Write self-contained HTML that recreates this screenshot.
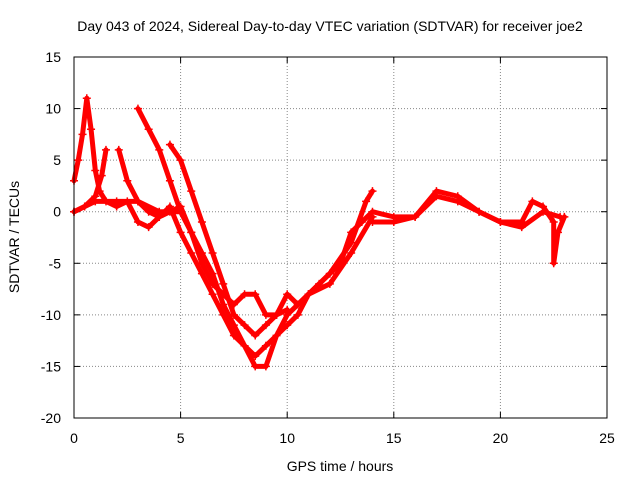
<!DOCTYPE html>
<html><head><meta charset="utf-8"><style>
body{margin:0;background:#fff}
svg{display:block;font-family:"Liberation Sans",sans-serif;font-size:14px}
</style></head><body>
<svg width="640" height="480">
<g id="grid"></g>
<g id="axes"></g>
<g id="series"></g>
<rect x="74" y="57" width="533" height="361" fill="none" stroke="#000"/>
<text x="330" y="31" text-anchor="middle">Day 043 of 2024, Sidereal Day-to-day VTEC variation (SDTVAR) for receiver joe2</text>
<text x="340" y="471" text-anchor="middle">GPS time / hours</text>
<text transform="translate(19,237) rotate(-90)" text-anchor="middle">SDTVAR / TECUs</text>
</svg>
<script>
const xTicks=[0,5,10,15,20,25];
const yTicks=[15,10,5,0,-5,-10,-15,-20];
const track1=[[0,3],[0.2,5],[0.4,7.5],[0.6,11],[0.8,8],[1,4],[1.2,2],[1.5,1],[2,0.5],[2.5,1],[3,-1],[3.5,-1.5],[4,-0.5],[4.5,0],[5,0.5],[5.5,-2],[6,-4],[6.5,-6],[7,-9],[7.5,-11],[8,-13],[8.5,-15],[9,-15],[9.5,-12],[10,-11],[10.5,-10],[11,-8],[11.5,-7],[12,-6],[12.5,-5],[13,-2],[13.5,-1],[14,0],[15,-0.5],[16,-0.5],[17,1.5],[18,1],[19,0],[20,-1],[21,-1.5],[22,0],[22.8,-0.5]];
const track2=[[0,0],[0.5,0.5],[1,1.5],[1.3,3.5],[1.5,6]];
const track2b=[[2.1,6],[2.5,3],[3,1],[3.5,0],[4,-0.5],[4.5,0.5],[5,-2],[5.5,-4],[6,-6],[6.5,-8],[7,-10],[7.5,-12],[8,-13],[8.5,-14],[9,-13],[9.5,-12],[10,-10],[10.5,-9],[11,-8],[12,-7],[13,-4],[14,-0.5]];
const track3=[[3,10],[3.5,8],[4,6],[4.5,3],[5,0],[5.5,-2],[6,-5],[6.5,-7],[7,-8],[7.5,-9],[8,-8],[8.5,-8],[9,-10],[9.5,-10],[10,-8],[10.5,-9],[11,-8],[12,-6],[13,-3],[13.7,1],[14,2]];
const track4=[[4.5,6.5],[5,5],[5.5,2],[6,-1],[6.5,-4],[7,-7],[7.5,-10],[8,-11],[8.5,-12],[9,-11],[9.5,-10],[10,-9.5]];
const track5=[[0,0],[1,1],[2,1],[3,1],[4,0],[5,0]];
const track6=[[14,-1],[15,-1],[16,-0.5],[17,2],[18,1.5],[19,0],[20,-1],[21,-1],[21.5,1],[22,0.5],[22.5,-1],[22.5,-5],[22.7,-2],[23,-0.5]];
const allTracks=[track1,track2,track2b,track3,track4,track5,track6];
const NS="http://www.w3.org/2000/svg";
const X=v=>74+v*533/25;
const Y=v=>57+(15-v)*361/35;
function mk(tag,at,parent){const e=document.createElementNS(NS,tag);for(const k in at)e.setAttribute(k,at[k]);parent.appendChild(e);return e;}
const grid=document.getElementById('grid'),axes=document.getElementById('axes'),ser=document.getElementById('series');
xTicks.forEach(t=>{
 if(t>0&&t<25){const l=mk('line',{x1:X(t),x2:X(t),y1:57,y2:418,stroke:'#888','stroke-dasharray':'1,2'},grid);
 
 }
 mk('line',{x1:X(t),x2:X(t),y1:418,y2:412,stroke:'#000'},axes);
 mk('line',{x1:X(t),x2:X(t),y1:57,y2:63,stroke:'#000'},axes);
 const tx=mk('text',{x:X(t),y:443,'text-anchor':'middle'},axes);tx.textContent=t;
 
 
});
yTicks.forEach(t=>{
 if(t<15&&t>-20){const l=mk('line',{x1:74,x2:607,y1:Y(t),y2:Y(t),stroke:'#888','stroke-dasharray':'1,2'},grid);
 
 }
 mk('line',{x1:74,x2:80,y1:Y(t),y2:Y(t),stroke:'#000'},axes);
 mk('line',{x1:601,x2:607,y1:Y(t),y2:Y(t),stroke:'#000'},axes);
 const tx=mk('text',{x:61,y:Y(t)+5,'text-anchor':'end'},axes);tx.textContent=t;
 
 
});
allTracks.forEach((tr,i)=>{
 const pl=mk('polyline',{points:tr.map(p=>X(p[0])+','+Y(p[1])).join(' '),fill:'none',stroke:'#f00','stroke-width':5,'stroke-linejoin':'round','stroke-linecap':'round'},ser);
 
 
 tr.forEach(p=>{const m=mk('path',{d:`M${X(p[0])-4},${Y(p[1])}h8M${X(p[0])},${Y(p[1])-4}v8`,stroke:'#f00','stroke-width':1.5},ser);
 
 });
});
</script>
</body></html>
